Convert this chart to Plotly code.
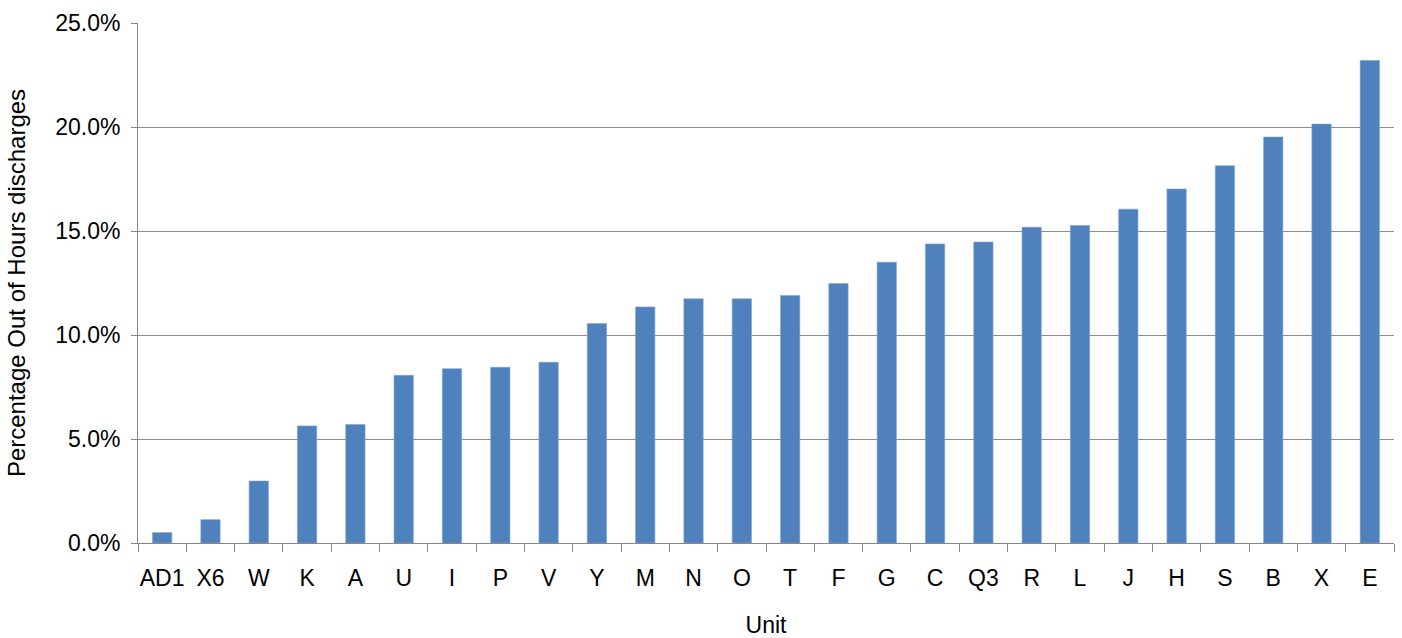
import plotly.graph_objects as go

units = ["AD1", "X6", "W", "K", "A", "U", "I", "P", "V", "Y", "M", "N", "O", "T",
         "F", "G", "C", "Q3", "R", "L", "J", "H", "S", "B", "X", "E"]
pct = [0.50, 1.12, 2.98, 5.63, 5.70, 8.06, 8.38, 8.45, 8.69, 10.55, 11.35, 11.74,
       11.74, 11.90, 12.47, 13.50, 14.38, 14.47, 15.18, 15.26, 16.05, 17.02, 18.14,
       19.52, 20.14, 23.20]
y_ticks = [0, 5, 10, 15, 20, 25]
y_tick_text = ["0.0%", "5.0%", "10.0%", "15.0%", "20.0%", "25.0%"]

fig = go.Figure(go.Bar(
    x=units, y=pct,
    marker=dict(color="#4F81BD", line=dict(color="#7FA3D3", width=0.6)),
    width=0.4,
))

font = "Liberation Sans, Arial, sans-serif"
fig.update_layout(
    width=1402, height=638,
    margin=dict(l=138, r=8, t=23, b=95, autoexpand=False),
    paper_bgcolor="white", plot_bgcolor="white",
    font=dict(family=font, size=24, color="black"),
    showlegend=False,
    xaxis=dict(
        type="category", automargin=False, tickangle=0,
        showline=True, linecolor="#868686", linewidth=1,
        ticks="outside", tickson="boundaries", ticklen=8, tickcolor="#868686",
        tickfont=dict(size=23), ticklabelstandoff=14,
        showgrid=False,
        title=dict(text="Unit", font=dict(size=23), standoff=30),
    ),
    yaxis=dict(
        range=[0, 25], tickvals=y_ticks, ticktext=y_tick_text, automargin=False,
        showline=True, linecolor="#868686", linewidth=1,
        ticks="outside", ticklen=6, tickcolor="#868686",
        showgrid=True, gridcolor="#8C8C8C", gridwidth=1,
        zeroline=False,
        tickfont=dict(size=23), ticklabelstandoff=6,
        title=dict(text="Percentage Out of Hours discharges", font=dict(size=24), standoff=22),
    ),
)

fig.write_html("out.html")
